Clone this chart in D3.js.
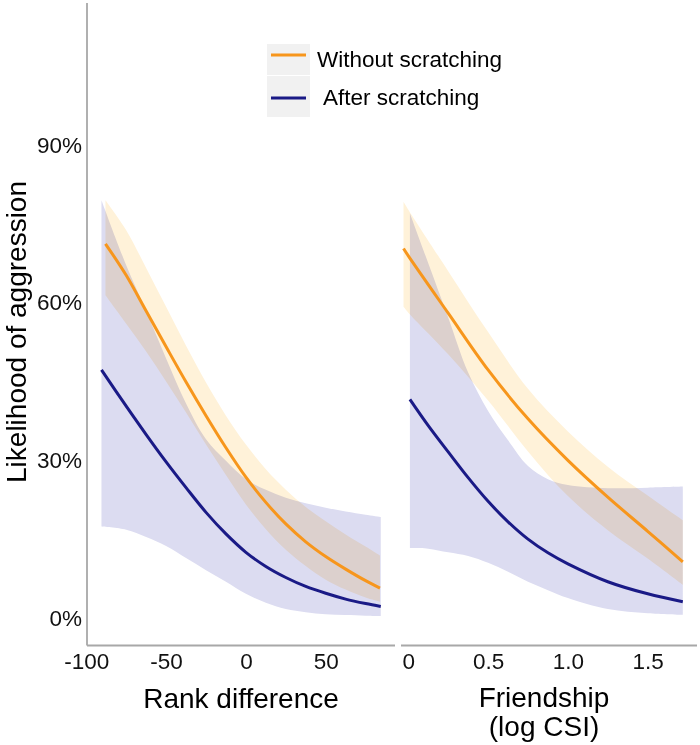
<!DOCTYPE html>
<html>
<head>
<meta charset="utf-8">
<script src="https://cdn.jsdelivr.net/npm/d3@7"></script>
<style>
body { margin: 0; background: #fff; }
text { font-family: "Liberation Sans", Arial, sans-serif; }
</style>
</head>
<body>
<script>
// values are percentages
var rankOrangeX   = [-88, -75, -62.5, -50, -37.5, -25, -12.5, 0, 12.5, 25, 37.5, 50, 62.5, 75, 84];
var rankOrangeFit = [71.2, 65.2, 58.4, 51.6, 44.9, 38.5, 32.4, 26.8, 22.0, 17.9, 14.5, 11.7, 9.3, 7.1, 5.7];
var rankOrangeLo  = [61.4, 56.0, 50.7, 45.0, 39.1, 33.0, 27.2, 21.6, 16.9, 13.0, 9.9, 7.3, 5.4, 3.9, 3.1];
var rankOrangeHi  = [79.5, 73.8, 66.6, 59.2, 51.8, 44.8, 38.5, 33.0, 28.3, 24.4, 21.1, 18.4, 15.9, 13.6, 11.9];

var rankBlueX   = [-90.5, -75, -62.5, -50, -37.5, -25, -12.5, 0, 12.5, 25, 37.5, 50, 62.5, 75, 84.5];
var rankBlueFit = [47.2, 40.3, 34.9, 29.7, 24.8, 20.1, 16.0, 12.5, 9.8, 7.7, 6.0, 4.7, 3.6, 2.75, 2.2];
var rankBlueLo  = [17.4, 16.8, 15.4, 13.7, 11.4, 9.1, 6.9, 4.6, 2.9, 1.7, 1.1, 0.7, 0.55, 0.45, 0.4];
var rankBlueHi  = [79.5, 67.1, 58.4, 49.4, 40.8, 34.0, 29.9, 26.4, 24.4, 22.9, 21.85, 21.0, 20.25, 19.65, 19.2];

var friendOrangeX   = [-0.03, 0, 0.25, 0.5, 0.75, 1.0, 1.25, 1.5, 1.72];
var friendOrangeFit = [70.3, 68.9, 58.0, 47.2, 37.9, 30.0, 23.0, 16.5, 10.7];
var friendOrangeLo  = [59.2, 58.1, 50.2, 41.4, 31.7, 23.2, 16.7, 11.3, 6.3];
var friendOrangeHi  = [79.2, 77.7, 66.0, 54.4, 43.6, 35.5, 28.8, 23.3, 18.6];

var friendBlueX   = [0.01, 0.125, 0.25, 0.375, 0.5, 0.625, 0.75, 0.875, 1.0, 1.25, 1.5, 1.72];
var friendBlueFit = [41.6, 36.6, 31.6, 26.7, 22.2, 18.3, 15.0, 12.4, 10.3, 6.9, 4.6, 3.1];
var friendBlueLo  = [13.3, 13.2, 12.5, 11.8, 10.5, 8.8, 6.9, 5.3, 3.8, 1.7, 0.9, 0.6];
var friendBlueHi  = [77.0, 67.5, 57.2, 46.7, 39.4, 33.8, 28.9, 26.4, 25.3, 24.7, 24.8, 25.0];

var yTicks = [0, 30, 60, 90];
var rankTicks = [-100, -50, 0, 50];
var friendTicks = [0, 0.5, 1.0, 1.5];
var friendTickLabels = ['0', '0.5', '1.0', '1.5'];
var seriesNames = ['Without scratching', 'After scratching'];

const WIDTH = 700;
const HEIGHT = 745;
const ORANGE = '#f7961c';
const NAVY = '#1a1a86';
const AXIS_GREY = '#a8a8a8';

var svg = d3.select('body').append('svg')
    .attr('width', WIDTH)
    .attr('height', HEIGHT);

var yScale = d3.scaleLinear().domain([0, 90]).range([618, 145]);
var xRank = d3.scaleLinear().domain([-100, 50]).range([86.3, 325.7]);
var xFriend = d3.scaleLinear().domain([0, 1.5]).range([408.3, 647.7]);

var toRows = function(xs, fit, lo, hi) {
    return xs.map(function(x, i) {
        return {x: x, fit: fit[i], lo: lo[i], hi: hi[i]};
    });
};

var drawPanel = function(xScale, blueRows, orangeRows) {
    var band = d3.area()
        .x(function(d) { return xScale(d.x); })
        .y0(function(d) { return yScale(d.lo); })
        .y1(function(d) { return yScale(d.hi); })
        .curve(d3.curveCatmullRom.alpha(0.5));
    var fit = d3.line()
        .x(function(d) { return xScale(d.x); })
        .y(function(d) { return yScale(d.fit); })
        .curve(d3.curveCatmullRom.alpha(0.5));

    svg.append('path').datum(blueRows)
        .attr('d', band)
        .attr('fill', '#dcdcf1');
    svg.append('path').datum(orangeRows)
        .attr('d', band)
        .attr('fill', '#fff2d9')
        .style('mix-blend-mode', 'multiply');
    svg.append('path').datum(orangeRows)
        .attr('d', fit)
        .attr('fill', 'none')
        .attr('stroke', ORANGE)
        .attr('stroke-width', 3);
    svg.append('path').datum(blueRows)
        .attr('d', fit)
        .attr('fill', 'none')
        .attr('stroke', NAVY)
        .attr('stroke-width', 3);
};

drawPanel(xRank,
    toRows(rankBlueX, rankBlueFit, rankBlueLo, rankBlueHi),
    toRows(rankOrangeX, rankOrangeFit, rankOrangeLo, rankOrangeHi));
drawPanel(xFriend,
    toRows(friendBlueX, friendBlueFit, friendBlueLo, friendBlueHi),
    toRows(friendOrangeX, friendOrangeFit, friendOrangeLo, friendOrangeHi));

// axis lines
var axisLines = [[87, 3, 87, 645.5], [87, 645.5, 395, 645.5], [401, 645.5, 697, 645.5]];
axisLines.forEach(function(l) {
    svg.append('line')
        .attr('x1', l[0]).attr('y1', l[1]).attr('x2', l[2]).attr('y2', l[3])
        .attr('stroke', AXIS_GREY)
        .attr('stroke-width', 1.8);
});

var styleAxis = function(g) {
    g.select('.domain').remove();
    g.attr('font-size', 22.5)
        .attr('font-family', '"Liberation Sans", Arial, sans-serif');
    g.selectAll('text').attr('fill', '#111');
};

svg.append('g')
    .attr('transform', 'translate(87,0)')
    .call(d3.axisLeft(yScale).tickValues(yTicks).tickSize(0).tickPadding(5)
        .tickFormat(function(d) { return d + '%'; }))
    .call(styleAxis);

svg.append('g')
    .attr('transform', 'translate(0,645)')
    .call(d3.axisBottom(xRank).tickValues(rankTicks).tickSize(0).tickPadding(8)
        .tickFormat(function(d) { return String(d); }))
    .call(styleAxis);

svg.append('g')
    .attr('transform', 'translate(0,645)')
    .call(d3.axisBottom(xFriend).tickValues(friendTicks).tickSize(0).tickPadding(8)
        .tickFormat(function(d, i) { return friendTickLabels[i]; }))
    .call(styleAxis);

// axis titles
svg.append('text')
    .attr('transform', 'translate(26,332) rotate(-90)')
    .attr('text-anchor', 'middle')
    .attr('font-size', 28)
    .text('Likelihood of aggression');

svg.append('text')
    .attr('x', 241).attr('y', 708)
    .attr('text-anchor', 'middle')
    .attr('font-size', 28)
    .text('Rank difference');

svg.append('text')
    .attr('x', 544).attr('y', 707)
    .attr('text-anchor', 'middle')
    .attr('font-size', 28)
    .text('Friendship');

svg.append('text')
    .attr('x', 544).attr('y', 736)
    .attr('text-anchor', 'middle')
    .attr('font-size', 28)
    .text('(log CSI)');

// legend
var keyTop = [44, 76];
var keyHeight = [31, 41];
var keyLineY = [55, 98];
var keyTextX = [317, 323];
var keyTextY = [67, 105];
var keyColors = [ORANGE, NAVY];

seriesNames.forEach(function(name, i) {
    svg.append('rect')
        .attr('x', 267).attr('y', keyTop[i])
        .attr('width', 43).attr('height', keyHeight[i])
        .attr('fill', '#f1f1f1');
    svg.append('line')
        .attr('x1', 271).attr('x2', 306)
        .attr('y1', keyLineY[i]).attr('y2', keyLineY[i])
        .attr('stroke', keyColors[i])
        .attr('stroke-width', 3);
    svg.append('text')
        .attr('x', keyTextX[i]).attr('y', keyTextY[i])
        .attr('font-size', 22.5)
        .text(name);
});
</script>
</body>
</html>
